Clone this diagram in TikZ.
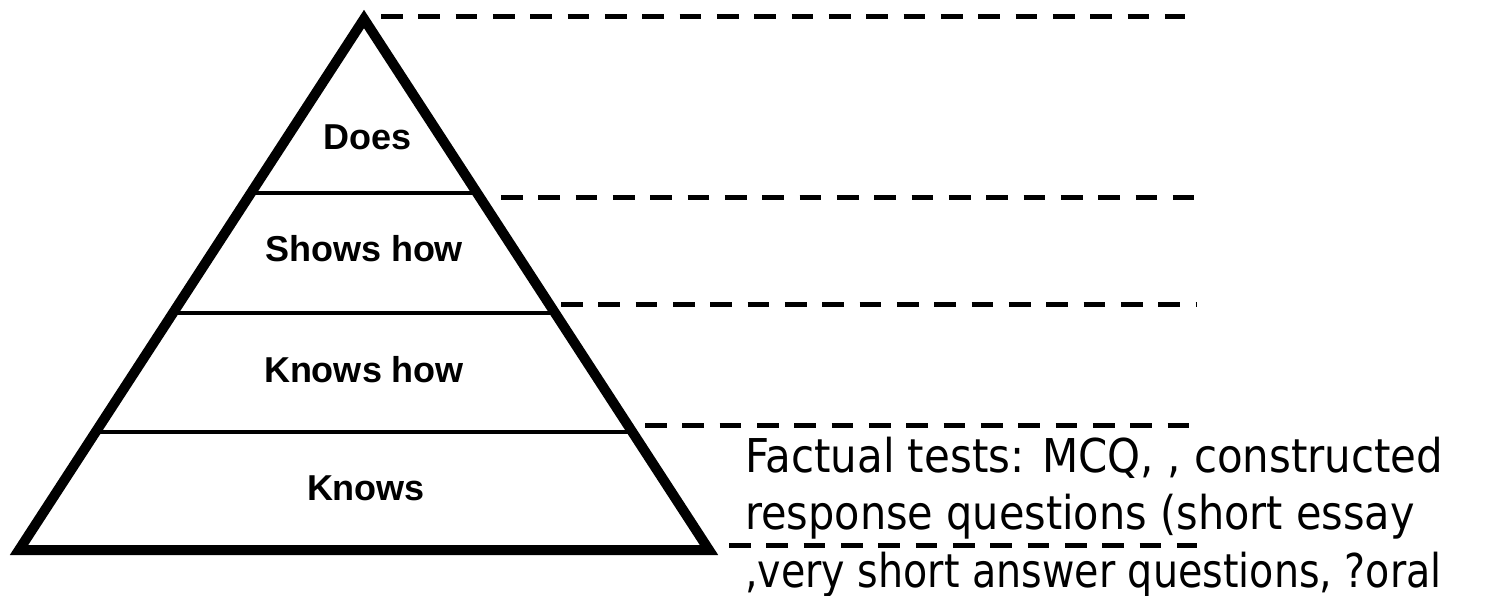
\documentclass[tikz,border=0pt]{standalone}
\usepackage{fontspec}
\setmainfont{Liberation Sans}
\newfontfamily\tah[FakeStretch=0.9]{DejaVu Sans}
\newfontfamily\tahb[FakeStretch=0.889]{DejaVu Sans}
\newfontfamily\tahc[FakeStretch=0.85]{DejaVu Sans}
\usetikzlibrary{calc}
\begin{document}
\begin{tikzpicture}[x=1pt,y=-1pt,
  tri/.style={line width=10pt, line join=miter},
  divider/.style={line width=4pt},
  dashline/.style={line width=5pt, dash pattern=on 21.7pt off 15.63pt},
  lvl/.style={font=\fontsize{36}{40}\selectfont\bfseries, anchor=base, inner sep=0pt},
  desc/.style={font=\fontsize{46.6}{57.5}\selectfont, anchor=base west, inner sep=0pt}]
\useasboundingbox (0,0) rectangle (1503,596);
% triangle corners
\coordinate (apex) at (364,19);
\coordinate (bl) at (19,550);
\coordinate (br) at (709,550);
% dividers
\foreach \t/\n in {0.3277/a,0.5537/b,0.7778/c}{
  \coordinate (l\n) at ($(apex)!\t!(bl)$);
  \coordinate (r\n) at ($(apex)!\t!(br)$);
  \draw[divider] (l\n) -- (r\n);
}
\draw[tri] (apex) -- (bl) -- (br) -- cycle;
% labels
\node[lvl] (does) at (368,150) {Does};
\node[lvl] (shows) at (364,261) {Shows how};
\node[lvl] (knowshow) at (364,382) {Knows how};
\node[lvl] (knows) at (366,500) {Knows};
% dashed lines
\coordinate (d1s) at (381,17);  \coordinate (d1e) at (1185,17);
\coordinate (d2s) at (501,197); \coordinate (d2e) at (1194,197);
\coordinate (d3s) at (561,304); \coordinate (d3e) at (1197,304);
\coordinate (d4s) at (645,425); \coordinate (d4e) at (1189,425);
\coordinate (d5s) at (729,545); \coordinate (d5e) at (1197,545);
\draw[dashline] (d1s) -- (d1e);
\draw[dashline] (d2s) -- (d2e);
\draw[dashline] (d3s) -- (d3e);
\draw[dashline] (d4s) -- (d4e);
\draw[dashline] (d5s) -- (d5e);
% description
\node[desc] (t1) at (745,472) {\tah Factual tests: MCQ, , constructed};
\node[desc] (t2) at (745,529) {\tahb response questions (short essay};
\node[desc] (t3) at (745,587) {\tahc ,very short answer questions, ?oral};
\end{tikzpicture}
\end{document}
